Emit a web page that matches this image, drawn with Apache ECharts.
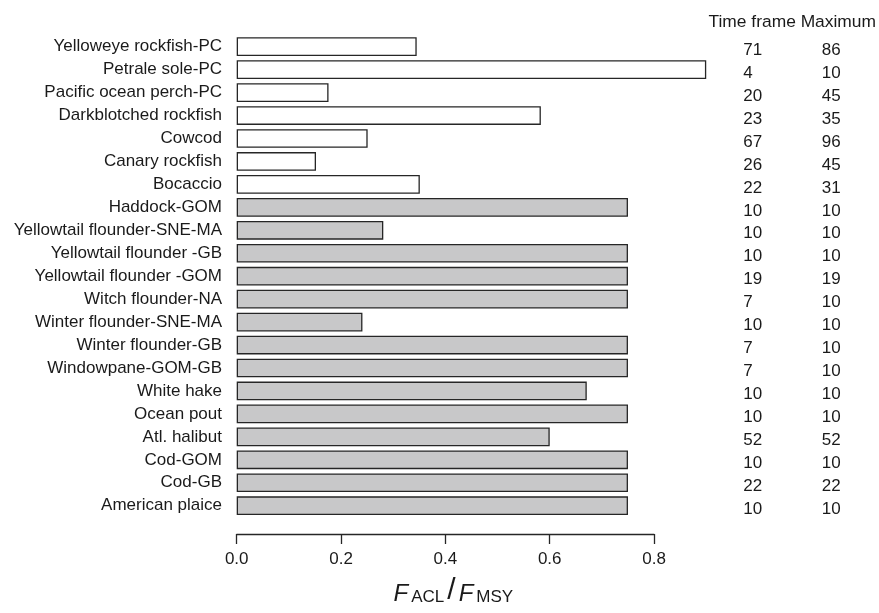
<!DOCTYPE html>
<html>
<head>
<meta charset="utf-8">
<title>F_ACL / F_MSY by stock</title>
<script src="https://cdn.jsdelivr.net/npm/echarts@6/dist/echarts.min.js"></script>
<style>
  html, body { margin: 0; padding: 0; background: #ffffff; }
  #chart { width: 879px; height: 613px; }
</style>
</head>
<body>
<div id="chart"></div>
<script>
// Stocks, top to bottom
const stocks = [
  'Yelloweye rockfish-PC', 'Petrale sole-PC', 'Pacific ocean perch-PC',
  'Darkblotched rockfish', 'Cowcod', 'Canary rockfish', 'Bocaccio',
  'Haddock-GOM', 'Yellowtail flounder-SNE-MA', 'Yellowtail flounder -GB',
  'Yellowtail flounder -GOM', 'Witch flounder-NA', 'Winter flounder-SNE-MA',
  'Winter flounder-GB', 'Windowpane-GOM-GB', 'White hake', 'Ocean pout',
  'Atl. halibut', 'Cod-GOM', 'Cod-GB', 'American plaice'
];

// Ratio of F at the annual catch limit to F at MSY
const fRatio = [
  0.345, 0.90, 0.176, 0.583, 0.251, 0.152, 0.351,
  0.75, 0.281, 0.75, 0.75, 0.75, 0.241,
  0.75, 0.75, 0.671, 0.75, 0.60, 0.75, 0.75, 0.75
];

// Rebuilding time frame and maximum allowed (years)
const timeFrame = [71, 4, 20, 23, 67, 26, 22, 10, 10, 10, 19, 7, 10, 7, 7, 10, 10, 52, 10, 22, 10];
const maximum   = [86, 10, 45, 35, 96, 45, 31, 10, 10, 10, 19, 10, 10, 10, 10, 10, 10, 52, 10, 22, 10];

// Management region of each stock
const region = [
  'Pacific', 'Pacific', 'Pacific', 'Pacific', 'Pacific', 'Pacific', 'Pacific',
  'Northeast', 'Northeast', 'Northeast', 'Northeast', 'Northeast', 'Northeast', 'Northeast',
  'Northeast', 'Northeast', 'Northeast', 'Northeast', 'Northeast', 'Northeast', 'Northeast'
];

const xTicks = [0, 0.2, 0.4, 0.6, 0.8];
const tableHeader = 'Time frame Maximum';

const FONT = '"Liberation Sans", Arial, Helvetica, sans-serif';
const INK = '#1a1a1a';
const PX_PER_UNIT = 521.7;
const PLOT_LEFT = 236.7;
const BAR_MAX = 0.9;

const chart = echarts.init(document.getElementById('chart'), null, { renderer: 'canvas' });

chart.setOption({
  backgroundColor: '#ffffff',
  animation: false,
  title: {
    text: tableHeader,
    right: 3,
    top: 14,
    padding: 0,
    textStyle: { fontFamily: FONT, fontSize: 17.4, fontWeight: 'normal', color: INK }
  },
  grid: [
    // bars
    { left: PLOT_LEFT, width: BAR_MAX * PX_PER_UNIT, top: 35.2, height: 482 },
    // visible value axis, 0 to 0.8
    { left: PLOT_LEFT, width: xTicks[xTicks.length - 1] * PX_PER_UNIT, top: 35.2, height: 498.8 }
  ],
  xAxis: [
    { type: 'value', gridIndex: 0, min: 0, max: BAR_MAX, show: false },
    {
      type: 'value', gridIndex: 1, position: 'bottom',
      min: xTicks[0], max: xTicks[xTicks.length - 1], interval: 0.2,
      axisLine: { show: true, lineStyle: { color: '#262626', width: 1.3 } },
      axisTick: { show: true, length: 10, lineStyle: { color: '#262626', width: 1.3 } },
      splitLine: { show: false },
      axisLabel: {
        margin: 16.5, fontFamily: FONT, fontSize: 17, color: INK,
        formatter: v => v.toFixed(1)
      },
      name: '{f|F}{s|ACL}{sl|/}{f|F}{s|MSY}',
      nameLocation: 'middle',
      nameGap: 42,
      nameTextStyle: {
        padding: [0, 0, 0, 16],
        rich: {
          f: { fontFamily: FONT, fontSize: 24, fontStyle: 'italic', color: INK,
               verticalAlign: 'bottom', lineHeight: 30, padding: [0, 3, 0, 0] },
          s: { fontFamily: FONT, fontSize: 17, color: INK,
               verticalAlign: 'bottom', lineHeight: 30 },
          sl: { fontFamily: FONT, fontSize: 30, color: INK,
                verticalAlign: 'bottom', lineHeight: 30, padding: [0, 3, 0, 3] }
        }
      }
    }
  ],
  yAxis: [
    {
      type: 'category', gridIndex: 0, data: stocks, inverse: true,
      axisLine: { show: false }, axisTick: { show: false }, splitLine: { show: false },
      axisLabel: { margin: 14.7, fontFamily: FONT, fontSize: 17, color: INK, interval: 0 }
    },
    {
      type: 'category', gridIndex: 0, data: stocks, inverse: true, position: 'right',
      axisLine: { show: false }, axisTick: { show: false }, splitLine: { show: false },
      axisLabel: {
        margin: 37, interval: 0, align: 'left',
        padding: [7, 0, 0, 0],
        formatter: (v, i) => '{a|' + timeFrame[i] + '}{b|' + maximum[i] + '}',
        rich: {
          a: { fontFamily: FONT, fontSize: 17, color: INK, width: 78.5, align: 'left' },
          b: { fontFamily: FONT, fontSize: 17, color: INK, align: 'left' }
        }
      }
    },
    { type: 'value', gridIndex: 1, show: false }
  ],
  series: [
    {
      type: 'bar',
      xAxisIndex: 0,
      yAxisIndex: 0,
      data: fRatio,
      barWidth: '81.5%',
      silent: true,
      itemStyle: {
        color: p => (region[p.dataIndex] === 'Pacific' ? '#ffffff' : '#c8c8c9'),
        borderColor: '#262626',
        borderWidth: 1.3
      }
    }
  ]
});
</script>
</body>
</html>
